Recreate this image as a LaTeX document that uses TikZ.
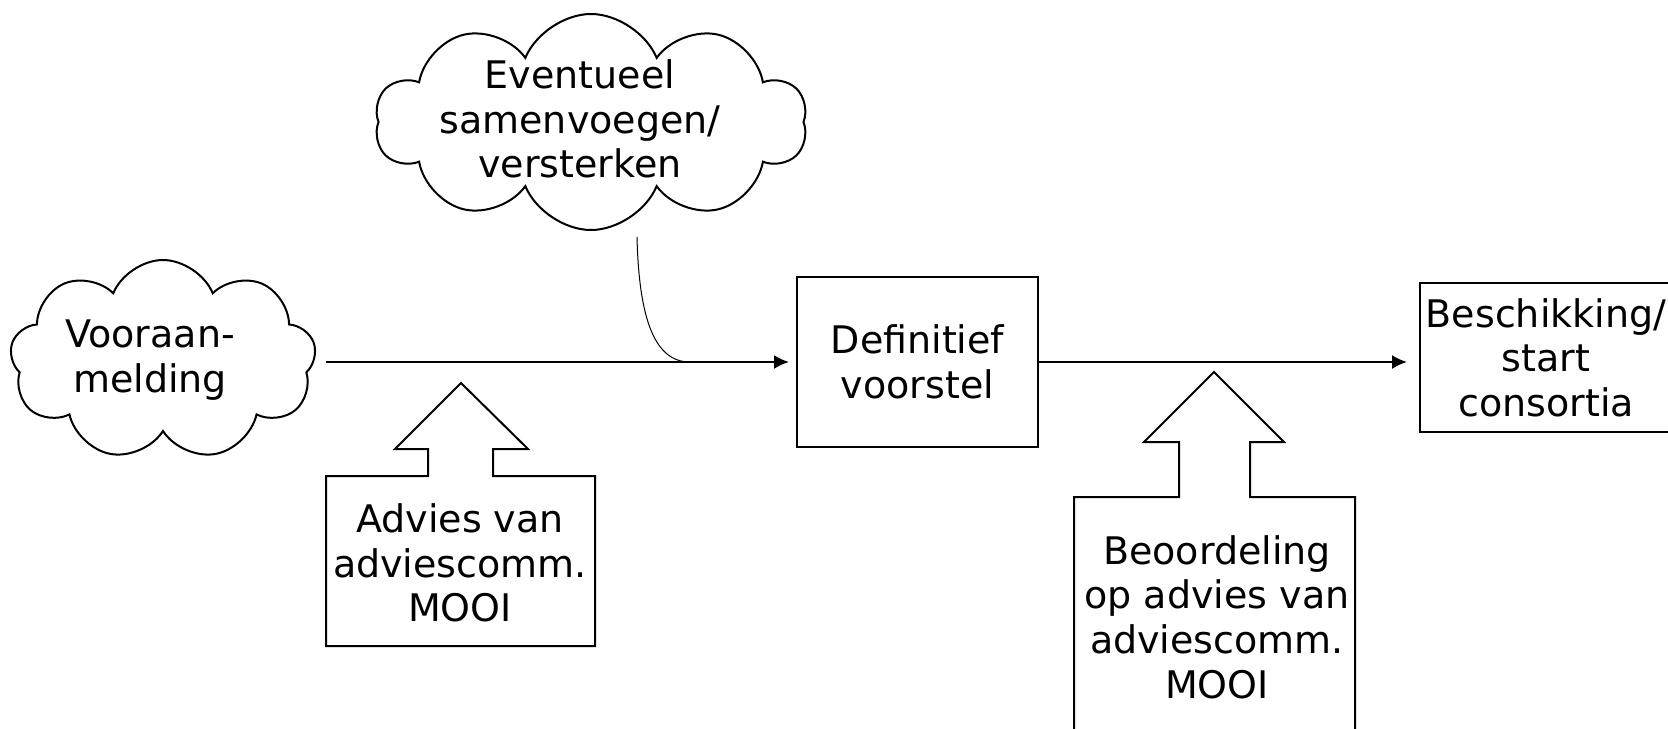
\documentclass[tikz,border=0pt]{standalone}
\usepackage{fontspec}
\setmainfont{DejaVu Sans}
\usetikzlibrary{shapes.symbols,arrows.meta}

\tikzset{
  wolk/.style={cloud, draw, line width=1pt, cloud puffs=9, cloud puff arc=135, aspect=1.6, inner sep=0pt},
  tekst/.style={align=center, font=\fontsize{19}{22.3}\selectfont, inner sep=0pt},
  blok/.style={draw, line width=1pt, tekst},
  pijl/.style={-{Latex[length=7.5pt,width=7pt]}, line width=1pt},
  callout/.style={draw, line width=1pt, line join=miter}
}

\begin{document}
\begin{tikzpicture}[x=0.5pt,y=-0.5pt]
    \useasboundingbox (0,0) rectangle (1668,728);
    \node[wolk, minimum width=153pt, minimum height=100pt] (vooraan) at (163,360) {};
    \node[tekst] (vooraantxt) at (150,360) {Vooraan-\\melding};
    \node[wolk, cloud puffs=10, aspect=2, minimum width=216pt, minimum height=108pt] (eventueel) at (591,122) {};
    \node[tekst] (eventueeltxt) at (580,119) {Eventueel\\samenvoegen/\\versterken};
    \node[blok, minimum width=120.5pt, minimum height=85pt] (definitief) at (917.5,362) {Definitief\\voorstel};
    \node[blok, minimum width=126pt, minimum height=74.5pt] (beschikking) at (1546,357.5) {Beschikking/\\start\\consortia};
    \draw[pijl, shorten <=5.5pt, shorten >=3.5pt] (vooraan.east |- definitief.west) -- (definitief.west);
    \draw[pijl, shorten >=6pt] (definitief.east) -- (definitief.east -| beschikking.west);
    \coordinate (bocht) at (637,237); \coordinate (samen) at (690,362);
    \draw[line width=0.5pt] (bocht) .. controls (639,320) and (655,362) .. (samen);
    \draw[callout] (461,383) -- (528,449) -- (493,449) -- (493,476) -- (595,476) -- (595,646) -- (326,646) -- (326,476) -- (428,476) -- (428,449) -- (395,449) -- cycle;
    \node[tekst] (advies) at (460,563) {Advies van\\adviescomm.\\MOOI};
    \draw[callout] (1214,372) -- (1284,442) -- (1250,442) -- (1250,497) -- (1355,497) -- (1355,740) -- (1074,740) -- (1074,497) -- (1179,497) -- (1179,442) -- (1144,442) -- cycle;
    \node[tekst] (beoordeling) at (1217,617) {Beoordeling\\op advies van\\adviescomm.\\MOOI};
\end{tikzpicture}
\end{document}
